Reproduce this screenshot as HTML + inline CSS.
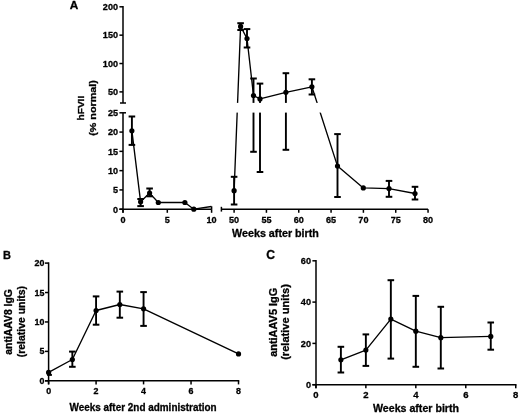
<!DOCTYPE html>
<html><head><meta charset="utf-8"><style>
html,body{margin:0;padding:0;background:#fff;}
svg{display:block;}
text{font-family:"Liberation Sans",sans-serif;fill:#000;stroke:#000;stroke-width:0.3px;}
svg{filter:grayscale(1) blur(0.3px);}
</style></head><body>
<svg width="520" height="418" viewBox="0 0 520 418">
<rect width="520" height="418" fill="#fff"/>
<g stroke="#000" fill="#000">
<polyline points="131.90,130.80 140.60,201.80 149.60,193.10 158.30,202.50 184.90,202.50 193.80,209.20 211.40,206.50" fill="none" stroke-width="1.35" stroke-linejoin="round"/>
<polyline points="234.10,190.70 240.60,26.40 247.00,38.50 253.50,95.50 260.00,98.90 285.90,92.30 311.90,86.80 337.50,166.10 363.30,187.90 389.00,188.60 415.00,193.50" fill="none" stroke-width="1.35" stroke-linejoin="round"/>
<line x1="131.90" y1="116.50" x2="131.90" y2="144.90" stroke-width="1.9" stroke-linecap="butt"/>
<line x1="128.60" y1="116.50" x2="135.20" y2="116.50" stroke-width="2.0" stroke-linecap="butt"/>
<line x1="128.60" y1="144.90" x2="135.20" y2="144.90" stroke-width="2.0" stroke-linecap="butt"/>
<circle cx="131.90" cy="130.80" r="2.6" stroke="none"/>
<line x1="140.60" y1="199.00" x2="140.60" y2="206.10" stroke-width="1.9" stroke-linecap="butt"/>
<line x1="137.30" y1="199.00" x2="143.90" y2="199.00" stroke-width="2.0" stroke-linecap="butt"/>
<line x1="137.30" y1="206.10" x2="143.90" y2="206.10" stroke-width="2.0" stroke-linecap="butt"/>
<circle cx="140.60" cy="201.80" r="2.6" stroke="none"/>
<line x1="149.60" y1="188.50" x2="149.60" y2="196.30" stroke-width="1.9" stroke-linecap="butt"/>
<line x1="146.30" y1="188.50" x2="152.90" y2="188.50" stroke-width="2.0" stroke-linecap="butt"/>
<line x1="146.30" y1="196.30" x2="152.90" y2="196.30" stroke-width="2.0" stroke-linecap="butt"/>
<circle cx="149.60" cy="193.10" r="2.6" stroke="none"/>
<circle cx="158.30" cy="202.50" r="2.6" stroke="none"/>
<circle cx="184.90" cy="202.50" r="2.6" stroke="none"/>
<circle cx="193.80" cy="209.20" r="2.6" stroke="none"/>
<line x1="234.10" y1="176.80" x2="234.10" y2="204.50" stroke-width="1.9" stroke-linecap="butt"/>
<line x1="230.80" y1="176.80" x2="237.40" y2="176.80" stroke-width="2.0" stroke-linecap="butt"/>
<line x1="230.80" y1="204.50" x2="237.40" y2="204.50" stroke-width="2.0" stroke-linecap="butt"/>
<circle cx="234.10" cy="190.70" r="2.6" stroke="none"/>
<line x1="240.60" y1="23.20" x2="240.60" y2="30.00" stroke-width="1.9" stroke-linecap="butt"/>
<line x1="237.30" y1="23.20" x2="243.90" y2="23.20" stroke-width="2.0" stroke-linecap="butt"/>
<line x1="237.30" y1="30.00" x2="243.90" y2="30.00" stroke-width="2.0" stroke-linecap="butt"/>
<circle cx="240.60" cy="26.40" r="2.6" stroke="none"/>
<line x1="247.00" y1="29.10" x2="247.00" y2="47.50" stroke-width="1.9" stroke-linecap="butt"/>
<line x1="243.70" y1="29.10" x2="250.30" y2="29.10" stroke-width="2.0" stroke-linecap="butt"/>
<line x1="243.70" y1="47.50" x2="250.30" y2="47.50" stroke-width="2.0" stroke-linecap="butt"/>
<circle cx="247.00" cy="38.50" r="2.6" stroke="none"/>
<line x1="253.50" y1="78.50" x2="253.50" y2="151.80" stroke-width="1.9" stroke-linecap="butt"/>
<line x1="250.20" y1="78.50" x2="256.80" y2="78.50" stroke-width="2.0" stroke-linecap="butt"/>
<line x1="250.20" y1="151.80" x2="256.80" y2="151.80" stroke-width="2.0" stroke-linecap="butt"/>
<circle cx="253.50" cy="95.50" r="2.6" stroke="none"/>
<line x1="260.00" y1="83.60" x2="260.00" y2="172.00" stroke-width="1.9" stroke-linecap="butt"/>
<line x1="256.70" y1="83.60" x2="263.30" y2="83.60" stroke-width="2.0" stroke-linecap="butt"/>
<line x1="256.70" y1="172.00" x2="263.30" y2="172.00" stroke-width="2.0" stroke-linecap="butt"/>
<circle cx="260.00" cy="98.90" r="2.6" stroke="none"/>
<line x1="285.90" y1="73.20" x2="285.90" y2="149.80" stroke-width="1.9" stroke-linecap="butt"/>
<line x1="282.60" y1="73.20" x2="289.20" y2="73.20" stroke-width="2.0" stroke-linecap="butt"/>
<line x1="282.60" y1="149.80" x2="289.20" y2="149.80" stroke-width="2.0" stroke-linecap="butt"/>
<circle cx="285.90" cy="92.30" r="2.6" stroke="none"/>
<line x1="311.90" y1="79.30" x2="311.90" y2="94.50" stroke-width="1.9" stroke-linecap="butt"/>
<line x1="308.60" y1="79.30" x2="315.20" y2="79.30" stroke-width="2.0" stroke-linecap="butt"/>
<line x1="308.60" y1="94.50" x2="315.20" y2="94.50" stroke-width="2.0" stroke-linecap="butt"/>
<circle cx="311.90" cy="86.80" r="2.6" stroke="none"/>
<line x1="337.50" y1="134.10" x2="337.50" y2="197.00" stroke-width="1.9" stroke-linecap="butt"/>
<line x1="334.20" y1="134.10" x2="340.80" y2="134.10" stroke-width="2.0" stroke-linecap="butt"/>
<line x1="334.20" y1="197.00" x2="340.80" y2="197.00" stroke-width="2.0" stroke-linecap="butt"/>
<circle cx="337.50" cy="166.10" r="2.6" stroke="none"/>
<circle cx="363.30" cy="187.90" r="2.6" stroke="none"/>
<line x1="389.00" y1="180.90" x2="389.00" y2="196.80" stroke-width="1.9" stroke-linecap="butt"/>
<line x1="385.70" y1="180.90" x2="392.30" y2="180.90" stroke-width="2.0" stroke-linecap="butt"/>
<line x1="385.70" y1="196.80" x2="392.30" y2="196.80" stroke-width="2.0" stroke-linecap="butt"/>
<circle cx="389.00" cy="188.60" r="2.6" stroke="none"/>
<line x1="415.00" y1="186.80" x2="415.00" y2="199.50" stroke-width="1.9" stroke-linecap="butt"/>
<line x1="411.70" y1="186.80" x2="418.30" y2="186.80" stroke-width="2.0" stroke-linecap="butt"/>
<line x1="411.70" y1="199.50" x2="418.30" y2="199.50" stroke-width="2.0" stroke-linecap="butt"/>
<circle cx="415.00" cy="193.50" r="2.6" stroke="none"/>
<rect x="124.2" y="102.90" width="310" height="9.70" fill="#fff" stroke="none"/>
<line x1="123.00" y1="6.05" x2="123.00" y2="103.00" stroke-width="1.5" stroke-linecap="butt"/>
<line x1="119.40" y1="6.80" x2="123.00" y2="6.80" stroke-width="1.5" stroke-linecap="butt"/>
<text x="118.00" y="10.10" font-size="9.6" text-anchor="end" font-weight="bold" textLength="15.149999999999999" lengthAdjust="spacingAndGlyphs">200</text>
<line x1="119.40" y1="35.16" x2="123.00" y2="35.16" stroke-width="1.5" stroke-linecap="butt"/>
<text x="118.00" y="38.46" font-size="9.6" text-anchor="end" font-weight="bold" textLength="15.149999999999999" lengthAdjust="spacingAndGlyphs">150</text>
<line x1="119.40" y1="63.53" x2="123.00" y2="63.53" stroke-width="1.5" stroke-linecap="butt"/>
<text x="118.00" y="66.83" font-size="9.6" text-anchor="end" font-weight="bold" textLength="15.149999999999999" lengthAdjust="spacingAndGlyphs">100</text>
<line x1="119.40" y1="91.89" x2="123.00" y2="91.89" stroke-width="1.5" stroke-linecap="butt"/>
<text x="118.00" y="95.19" font-size="9.6" text-anchor="end" font-weight="bold" textLength="10.1" lengthAdjust="spacingAndGlyphs">50</text>
<line x1="120.00" y1="103.00" x2="126.00" y2="103.00" stroke-width="1.5" stroke-linecap="butt"/>
<line x1="123.00" y1="112.80" x2="123.00" y2="212.80" stroke-width="1.5" stroke-linecap="butt"/>
<line x1="119.40" y1="112.80" x2="123.00" y2="112.80" stroke-width="1.5" stroke-linecap="butt"/>
<text x="118.00" y="116.10" font-size="9.6" text-anchor="end" font-weight="bold" textLength="10.1" lengthAdjust="spacingAndGlyphs">25</text>
<line x1="119.40" y1="132.08" x2="123.00" y2="132.08" stroke-width="1.5" stroke-linecap="butt"/>
<text x="118.00" y="135.38" font-size="9.6" text-anchor="end" font-weight="bold" textLength="10.1" lengthAdjust="spacingAndGlyphs">20</text>
<line x1="119.40" y1="151.36" x2="123.00" y2="151.36" stroke-width="1.5" stroke-linecap="butt"/>
<text x="118.00" y="154.66" font-size="9.6" text-anchor="end" font-weight="bold" textLength="10.1" lengthAdjust="spacingAndGlyphs">15</text>
<line x1="119.40" y1="170.64" x2="123.00" y2="170.64" stroke-width="1.5" stroke-linecap="butt"/>
<text x="118.00" y="173.94" font-size="9.6" text-anchor="end" font-weight="bold" textLength="10.1" lengthAdjust="spacingAndGlyphs">10</text>
<line x1="119.40" y1="189.92" x2="123.00" y2="189.92" stroke-width="1.5" stroke-linecap="butt"/>
<text x="118.00" y="193.22" font-size="9.6" text-anchor="end" font-weight="bold" textLength="5.05" lengthAdjust="spacingAndGlyphs">5</text>
<line x1="119.40" y1="209.20" x2="123.00" y2="209.20" stroke-width="1.5" stroke-linecap="butt"/>
<text x="118.00" y="212.50" font-size="9.6" text-anchor="end" font-weight="bold" textLength="5.05" lengthAdjust="spacingAndGlyphs">0</text>
<line x1="123.00" y1="112.80" x2="126.00" y2="112.80" stroke-width="1.5" stroke-linecap="butt"/>
<line x1="119.40" y1="209.20" x2="211.60" y2="209.20" stroke-width="1.5" stroke-linecap="butt"/>
<line x1="123.00" y1="209.20" x2="123.00" y2="212.80" stroke-width="1.5" stroke-linecap="butt"/>
<text x="123.00" y="223.00" font-size="9.6" text-anchor="middle" font-weight="bold" textLength="5.05" lengthAdjust="spacingAndGlyphs">0</text>
<line x1="167.30" y1="209.20" x2="167.30" y2="212.80" stroke-width="1.5" stroke-linecap="butt"/>
<text x="167.30" y="223.00" font-size="9.6" text-anchor="middle" font-weight="bold" textLength="5.05" lengthAdjust="spacingAndGlyphs">5</text>
<line x1="211.60" y1="209.20" x2="211.60" y2="212.80" stroke-width="1.5" stroke-linecap="butt"/>
<text x="211.60" y="223.00" font-size="9.6" text-anchor="middle" font-weight="bold" textLength="10.1" lengthAdjust="spacingAndGlyphs">10</text>
<line x1="211.60" y1="206.30" x2="211.60" y2="209.20" stroke-width="1.5" stroke-linecap="butt"/>
<line x1="221.40" y1="209.20" x2="428.05" y2="209.20" stroke-width="1.5" stroke-linecap="butt"/>
<line x1="221.40" y1="206.80" x2="221.40" y2="211.60" stroke-width="1.5" stroke-linecap="butt"/>
<line x1="234.10" y1="209.20" x2="234.10" y2="212.80" stroke-width="1.5" stroke-linecap="butt"/>
<text x="234.10" y="223.00" font-size="9.6" text-anchor="middle" font-weight="bold" textLength="10.1" lengthAdjust="spacingAndGlyphs">50</text>
<line x1="266.43" y1="209.20" x2="266.43" y2="212.80" stroke-width="1.5" stroke-linecap="butt"/>
<text x="266.43" y="223.00" font-size="9.6" text-anchor="middle" font-weight="bold" textLength="10.1" lengthAdjust="spacingAndGlyphs">55</text>
<line x1="298.75" y1="209.20" x2="298.75" y2="212.80" stroke-width="1.5" stroke-linecap="butt"/>
<text x="298.75" y="223.00" font-size="9.6" text-anchor="middle" font-weight="bold" textLength="10.1" lengthAdjust="spacingAndGlyphs">60</text>
<line x1="331.07" y1="209.20" x2="331.07" y2="212.80" stroke-width="1.5" stroke-linecap="butt"/>
<text x="331.07" y="223.00" font-size="9.6" text-anchor="middle" font-weight="bold" textLength="10.1" lengthAdjust="spacingAndGlyphs">65</text>
<line x1="363.40" y1="209.20" x2="363.40" y2="212.80" stroke-width="1.5" stroke-linecap="butt"/>
<text x="363.40" y="223.00" font-size="9.6" text-anchor="middle" font-weight="bold" textLength="10.1" lengthAdjust="spacingAndGlyphs">70</text>
<line x1="395.73" y1="209.20" x2="395.73" y2="212.80" stroke-width="1.5" stroke-linecap="butt"/>
<text x="395.73" y="223.00" font-size="9.6" text-anchor="middle" font-weight="bold" textLength="10.1" lengthAdjust="spacingAndGlyphs">75</text>
<line x1="428.05" y1="209.20" x2="428.05" y2="212.80" stroke-width="1.5" stroke-linecap="butt"/>
<text x="428.05" y="223.00" font-size="9.6" text-anchor="middle" font-weight="bold" textLength="10.1" lengthAdjust="spacingAndGlyphs">80</text>
<text x="73.90" y="8.80" font-size="11.8" text-anchor="middle" font-weight="bold">A</text>
<text transform="translate(83.50,108.10) rotate(-90)" x="0" y="0" font-size="9.8" text-anchor="middle" font-weight="bold" textLength="24.6" lengthAdjust="spacingAndGlyphs">hFVII</text>
<text transform="translate(96.30,108.00) rotate(-90)" x="0" y="0" font-size="9.7" text-anchor="middle" font-weight="bold" textLength="55.6" lengthAdjust="spacingAndGlyphs">(% normal)</text>
<text x="232.10" y="236.60" font-size="10.8" text-anchor="start" font-weight="bold" textLength="86.8" lengthAdjust="spacingAndGlyphs">Weeks after birth</text>
<polyline points="48.60,372.40 72.34,359.50 96.08,310.50 119.82,304.50 143.56,308.80 238.52,353.90" fill="none" stroke-width="1.35" stroke-linejoin="round"/>
<circle cx="48.60" cy="372.40" r="2.6" stroke="none"/>
<line x1="72.34" y1="351.60" x2="72.34" y2="366.80" stroke-width="1.9" stroke-linecap="butt"/>
<line x1="69.04" y1="351.60" x2="75.64" y2="351.60" stroke-width="2.0" stroke-linecap="butt"/>
<line x1="69.04" y1="366.80" x2="75.64" y2="366.80" stroke-width="2.0" stroke-linecap="butt"/>
<circle cx="72.34" cy="359.50" r="2.6" stroke="none"/>
<line x1="96.08" y1="296.40" x2="96.08" y2="324.70" stroke-width="1.9" stroke-linecap="butt"/>
<line x1="92.78" y1="296.40" x2="99.38" y2="296.40" stroke-width="2.0" stroke-linecap="butt"/>
<line x1="92.78" y1="324.70" x2="99.38" y2="324.70" stroke-width="2.0" stroke-linecap="butt"/>
<circle cx="96.08" cy="310.50" r="2.6" stroke="none"/>
<line x1="119.82" y1="291.60" x2="119.82" y2="317.70" stroke-width="1.9" stroke-linecap="butt"/>
<line x1="116.52" y1="291.60" x2="123.12" y2="291.60" stroke-width="2.0" stroke-linecap="butt"/>
<line x1="116.52" y1="317.70" x2="123.12" y2="317.70" stroke-width="2.0" stroke-linecap="butt"/>
<circle cx="119.82" cy="304.50" r="2.6" stroke="none"/>
<line x1="143.56" y1="292.10" x2="143.56" y2="325.90" stroke-width="1.9" stroke-linecap="butt"/>
<line x1="140.26" y1="292.10" x2="146.86" y2="292.10" stroke-width="2.0" stroke-linecap="butt"/>
<line x1="140.26" y1="325.90" x2="146.86" y2="325.90" stroke-width="2.0" stroke-linecap="butt"/>
<circle cx="143.56" cy="308.80" r="2.6" stroke="none"/>
<circle cx="238.52" cy="353.90" r="2.6" stroke="none"/>
<line x1="47.10" y1="374.90" x2="51.90" y2="374.90" stroke-width="2.0" stroke-linecap="butt"/>
<line x1="48.60" y1="262.35" x2="48.60" y2="384.40" stroke-width="1.5" stroke-linecap="butt"/>
<line x1="45.00" y1="263.10" x2="48.60" y2="263.10" stroke-width="1.5" stroke-linecap="butt"/>
<text x="44.40" y="266.10" font-size="8.9" text-anchor="end" font-weight="bold">20</text>
<line x1="45.00" y1="292.53" x2="48.60" y2="292.53" stroke-width="1.5" stroke-linecap="butt"/>
<text x="44.40" y="295.53" font-size="8.9" text-anchor="end" font-weight="bold">15</text>
<line x1="45.00" y1="321.95" x2="48.60" y2="321.95" stroke-width="1.5" stroke-linecap="butt"/>
<text x="44.40" y="324.95" font-size="8.9" text-anchor="end" font-weight="bold">10</text>
<line x1="45.00" y1="351.38" x2="48.60" y2="351.38" stroke-width="1.5" stroke-linecap="butt"/>
<text x="44.40" y="354.38" font-size="8.9" text-anchor="end" font-weight="bold">5</text>
<line x1="45.00" y1="380.80" x2="48.60" y2="380.80" stroke-width="1.5" stroke-linecap="butt"/>
<text x="44.40" y="383.80" font-size="8.9" text-anchor="end" font-weight="bold">0</text>
<line x1="45.00" y1="380.80" x2="239.27" y2="380.80" stroke-width="1.5" stroke-linecap="butt"/>
<line x1="48.60" y1="380.80" x2="48.60" y2="384.40" stroke-width="1.5" stroke-linecap="butt"/>
<text x="48.60" y="394.30" font-size="8.9" text-anchor="middle" font-weight="bold">0</text>
<line x1="96.08" y1="380.80" x2="96.08" y2="384.40" stroke-width="1.5" stroke-linecap="butt"/>
<text x="96.08" y="394.30" font-size="8.9" text-anchor="middle" font-weight="bold">2</text>
<line x1="143.56" y1="380.80" x2="143.56" y2="384.40" stroke-width="1.5" stroke-linecap="butt"/>
<text x="143.56" y="394.30" font-size="8.9" text-anchor="middle" font-weight="bold">4</text>
<line x1="191.04" y1="380.80" x2="191.04" y2="384.40" stroke-width="1.5" stroke-linecap="butt"/>
<text x="191.04" y="394.30" font-size="8.9" text-anchor="middle" font-weight="bold">6</text>
<line x1="238.52" y1="380.80" x2="238.52" y2="384.40" stroke-width="1.5" stroke-linecap="butt"/>
<text x="238.52" y="394.30" font-size="8.9" text-anchor="middle" font-weight="bold">8</text>
<text x="7.00" y="258.70" font-size="11.0" text-anchor="middle" font-weight="bold">B</text>
<text transform="translate(12.00,321.90) rotate(-90)" x="0" y="0" font-size="10.0" text-anchor="middle" font-weight="bold" textLength="65.6" lengthAdjust="spacingAndGlyphs">antiAAV8 IgG</text>
<text transform="translate(25.30,321.60) rotate(-90)" x="0" y="0" font-size="10.0" text-anchor="middle" font-weight="bold" textLength="71.4" lengthAdjust="spacingAndGlyphs">(relative units)</text>
<text x="69.50" y="411.40" font-size="10.8" text-anchor="start" font-weight="bold" textLength="147.1" lengthAdjust="spacingAndGlyphs">Weeks after 2nd administration</text>
<polyline points="340.88,359.80 365.86,350.10 390.84,319.10 415.82,331.20 440.80,337.70 490.76,336.40" fill="none" stroke-width="1.35" stroke-linejoin="round"/>
<line x1="340.88" y1="346.80" x2="340.88" y2="372.50" stroke-width="1.9" stroke-linecap="butt"/>
<line x1="337.58" y1="346.80" x2="344.18" y2="346.80" stroke-width="2.0" stroke-linecap="butt"/>
<line x1="337.58" y1="372.50" x2="344.18" y2="372.50" stroke-width="2.0" stroke-linecap="butt"/>
<circle cx="340.88" cy="359.80" r="2.6" stroke="none"/>
<line x1="365.86" y1="334.40" x2="365.86" y2="365.90" stroke-width="1.9" stroke-linecap="butt"/>
<line x1="362.56" y1="334.40" x2="369.16" y2="334.40" stroke-width="2.0" stroke-linecap="butt"/>
<line x1="362.56" y1="365.90" x2="369.16" y2="365.90" stroke-width="2.0" stroke-linecap="butt"/>
<circle cx="365.86" cy="350.10" r="2.6" stroke="none"/>
<line x1="390.84" y1="280.20" x2="390.84" y2="358.60" stroke-width="1.9" stroke-linecap="butt"/>
<line x1="387.54" y1="280.20" x2="394.14" y2="280.20" stroke-width="2.0" stroke-linecap="butt"/>
<line x1="387.54" y1="358.60" x2="394.14" y2="358.60" stroke-width="2.0" stroke-linecap="butt"/>
<circle cx="390.84" cy="319.10" r="2.6" stroke="none"/>
<line x1="415.82" y1="295.90" x2="415.82" y2="366.80" stroke-width="1.9" stroke-linecap="butt"/>
<line x1="412.52" y1="295.90" x2="419.12" y2="295.90" stroke-width="2.0" stroke-linecap="butt"/>
<line x1="412.52" y1="366.80" x2="419.12" y2="366.80" stroke-width="2.0" stroke-linecap="butt"/>
<circle cx="415.82" cy="331.20" r="2.6" stroke="none"/>
<line x1="440.80" y1="306.80" x2="440.80" y2="368.50" stroke-width="1.9" stroke-linecap="butt"/>
<line x1="437.50" y1="306.80" x2="444.10" y2="306.80" stroke-width="2.0" stroke-linecap="butt"/>
<line x1="437.50" y1="368.50" x2="444.10" y2="368.50" stroke-width="2.0" stroke-linecap="butt"/>
<circle cx="440.80" cy="337.70" r="2.6" stroke="none"/>
<line x1="490.76" y1="322.50" x2="490.76" y2="349.70" stroke-width="1.9" stroke-linecap="butt"/>
<line x1="487.46" y1="322.50" x2="494.06" y2="322.50" stroke-width="2.0" stroke-linecap="butt"/>
<line x1="487.46" y1="349.70" x2="494.06" y2="349.70" stroke-width="2.0" stroke-linecap="butt"/>
<circle cx="490.76" cy="336.40" r="2.6" stroke="none"/>
<line x1="316.00" y1="260.05" x2="316.00" y2="388.30" stroke-width="1.5" stroke-linecap="butt"/>
<line x1="312.40" y1="260.80" x2="316.00" y2="260.80" stroke-width="1.5" stroke-linecap="butt"/>
<text x="311.00" y="264.00" font-size="9.5" text-anchor="end" font-weight="bold" textLength="10.2" lengthAdjust="spacingAndGlyphs">60</text>
<line x1="312.40" y1="302.10" x2="316.00" y2="302.10" stroke-width="1.5" stroke-linecap="butt"/>
<text x="311.00" y="305.30" font-size="9.5" text-anchor="end" font-weight="bold" textLength="10.2" lengthAdjust="spacingAndGlyphs">40</text>
<line x1="312.40" y1="343.40" x2="316.00" y2="343.40" stroke-width="1.5" stroke-linecap="butt"/>
<text x="311.00" y="346.60" font-size="9.5" text-anchor="end" font-weight="bold" textLength="10.2" lengthAdjust="spacingAndGlyphs">20</text>
<line x1="312.40" y1="384.70" x2="316.00" y2="384.70" stroke-width="1.5" stroke-linecap="butt"/>
<text x="311.00" y="387.90" font-size="9.5" text-anchor="end" font-weight="bold" textLength="5.1" lengthAdjust="spacingAndGlyphs">0</text>
<line x1="312.40" y1="384.70" x2="516.49" y2="384.70" stroke-width="1.5" stroke-linecap="butt"/>
<line x1="315.90" y1="384.70" x2="315.90" y2="388.30" stroke-width="1.5" stroke-linecap="butt"/>
<text x="315.90" y="398.00" font-size="9.5" text-anchor="middle" font-weight="bold">0</text>
<line x1="365.86" y1="384.70" x2="365.86" y2="388.30" stroke-width="1.5" stroke-linecap="butt"/>
<text x="365.86" y="398.00" font-size="9.5" text-anchor="middle" font-weight="bold">2</text>
<line x1="415.82" y1="384.70" x2="415.82" y2="388.30" stroke-width="1.5" stroke-linecap="butt"/>
<text x="415.82" y="398.00" font-size="9.5" text-anchor="middle" font-weight="bold">4</text>
<line x1="465.78" y1="384.70" x2="465.78" y2="388.30" stroke-width="1.5" stroke-linecap="butt"/>
<text x="465.78" y="398.00" font-size="9.5" text-anchor="middle" font-weight="bold">6</text>
<line x1="515.74" y1="384.70" x2="515.74" y2="388.30" stroke-width="1.5" stroke-linecap="butt"/>
<text x="515.74" y="398.00" font-size="9.5" text-anchor="middle" font-weight="bold">8</text>
<text x="270.60" y="259.40" font-size="12.2" text-anchor="middle" font-weight="bold">C</text>
<text transform="translate(276.70,322.30) rotate(-90)" x="0" y="0" font-size="10.6" text-anchor="middle" font-weight="bold" textLength="69.1" lengthAdjust="spacingAndGlyphs">antiAAV5 IgG</text>
<text transform="translate(289.00,322.00) rotate(-90)" x="0" y="0" font-size="10.6" text-anchor="middle" font-weight="bold" textLength="75.7" lengthAdjust="spacingAndGlyphs">(relative units)</text>
<text x="373.00" y="412.10" font-size="10.8" text-anchor="start" font-weight="bold" textLength="86.0" lengthAdjust="spacingAndGlyphs">Weeks after birth</text>
</g>
</svg>
</body></html>
